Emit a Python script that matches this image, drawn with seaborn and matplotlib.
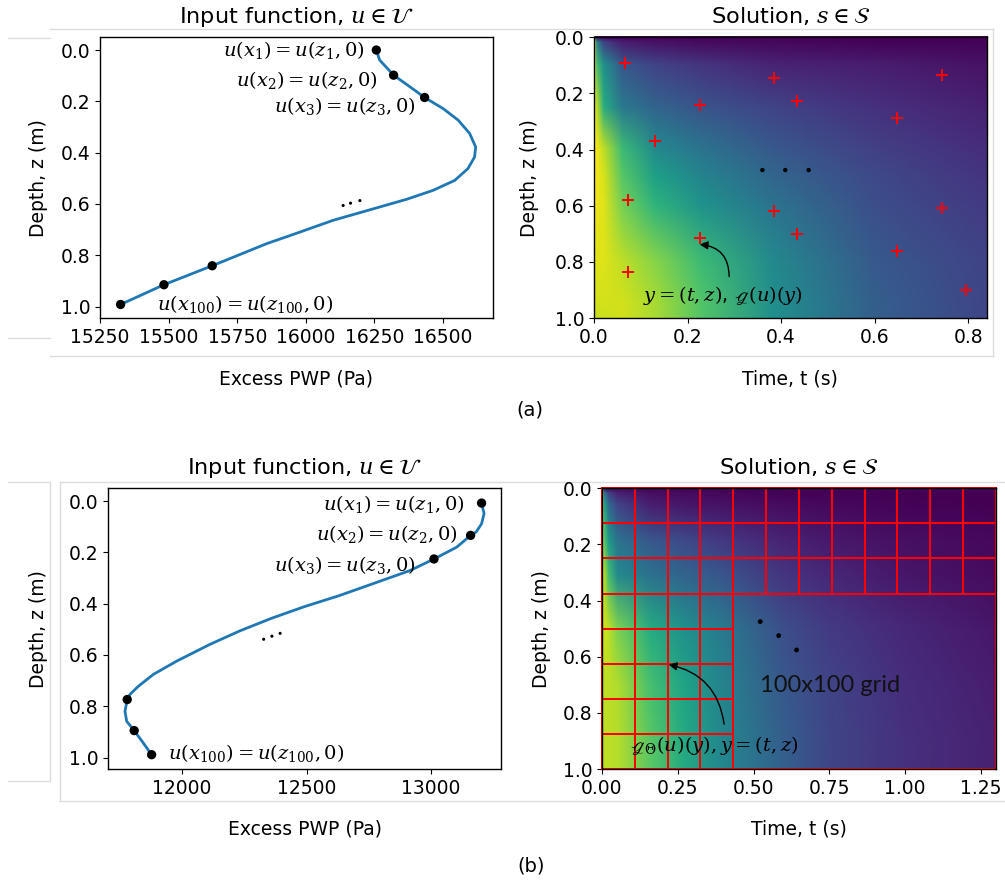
import numpy as np
import matplotlib
matplotlib.use("Agg")
import matplotlib.pyplot as plt
from matplotlib.image import NonUniformImage
from matplotlib.patches import Rectangle
from matplotlib.lines import Line2D
import seaborn as sns

# ---------------- (a) input function ----------------
a_depth = [0.0, 0.039, 0.098, 0.143, 0.185, 0.228, 0.273, 0.325, 0.378, 0.417,
           0.462, 0.508, 0.547, 0.582, 0.612, 0.664, 0.71, 0.755, 0.841, 0.915, 0.992]
a_pwp = [16257, 16269, 16320, 16379, 16433, 16500, 16555, 16597, 16619, 16615,
         16591, 16543, 16464, 16367, 16269, 16099, 15978, 15857, 15659, 15483, 15325]
a_dot_depth = [0.0, 0.098, 0.185, 0.841, 0.915, 0.992]
a_dot_pwp = [16257, 16320, 16433, 15659, 15483, 15325]
a_more_pwp = [16136, 16163, 16197]
a_more_depth = [0.606, 0.597, 0.587]

# ---------------- (a) solution field (colour level 0..1) ----------------
a_t = [0.0, 0.005, 0.02, 0.06, 0.13, 0.23, 0.38, 0.6, 0.84]
a_z = [0.0, 0.02, 0.1, 0.25, 0.4, 0.5, 0.6, 0.8, 0.95, 1.0]
a_field = [
    [0.35, 0.00, 0.00, 0.00, 0.00, 0.00, 0.00, 0.00, 0.00],
    [0.96, 0.45, 0.20, 0.08, 0.05, 0.03, 0.02, 0.01, 0.01],
    [0.97, 0.70, 0.50, 0.27, 0.20, 0.15, 0.10, 0.08, 0.05],
    [0.98, 0.90, 0.62, 0.40, 0.32, 0.26, 0.20, 0.14, 0.09],
    [1.00, 0.98, 0.90, 0.68, 0.48, 0.38, 0.28, 0.19, 0.13],
    [1.00, 0.98, 0.94, 0.74, 0.57, 0.45, 0.33, 0.22, 0.15],
    [0.99, 0.97, 0.95, 0.79, 0.65, 0.51, 0.38, 0.24, 0.17],
    [0.95, 0.95, 0.95, 0.90, 0.82, 0.68, 0.47, 0.28, 0.20],
    [0.93, 0.93, 0.93, 0.93, 0.87, 0.73, 0.50, 0.30, 0.21],
    [0.92, 0.92, 0.92, 0.93, 0.87, 0.73, 0.50, 0.30, 0.21],
]
a_pts_t = [0.066, 0.384, 0.745, 0.226, 0.435, 0.647, 0.130, 0.073,
           0.384, 0.745, 0.226, 0.435, 0.647, 0.073, 0.795]
a_pts_z = [0.091, 0.146, 0.136, 0.240, 0.227, 0.286, 0.368, 0.580,
           0.618, 0.609, 0.714, 0.702, 0.760, 0.837, 0.899]
a_etc_t = [0.360, 0.409, 0.459]
a_etc_z = [0.473, 0.473, 0.473]

# ---------------- (b) input function ----------------
b_depth = [0.008, 0.049, 0.089, 0.121, 0.134, 0.180, 0.226, 0.271, 0.324, 0.370,
           0.411, 0.457, 0.506, 0.559, 0.624, 0.676, 0.722, 0.754, 0.774, 0.820,
           0.859, 0.895, 0.944, 0.989]
b_pwp = [13203, 13213, 13203, 13181, 13159, 13103, 13012, 12916, 12762, 12628,
         12494, 12360, 12233, 12112, 11979, 11885, 11825, 11791, 11780, 11771,
         11778, 11808, 11845, 11878]
b_dot_depth = [0.008, 0.134, 0.226, 0.774, 0.895, 0.989]
b_dot_pwp = [13203, 13159, 13012, 11780, 11808, 11878]
b_more_pwp = [12328, 12361, 12394]
b_more_depth = [0.539, 0.527, 0.516]

# ---------------- (b) solution field ----------------
b_t = [0.0, 0.005, 0.02, 0.05, 0.16, 0.27, 0.38, 0.6, 0.75, 1.0, 1.3]
b_z = [0.0, 0.02, 0.06, 0.19, 0.31, 0.5, 0.7, 0.9, 1.0]
b_field = [
    [0.35, 0.00, 0.00, 0.00, 0.00, 0.00, 0.00, 0.00, 0.00, 0.00, 0.00],
    [0.99, 0.40, 0.20, 0.10, 0.04, 0.03, 0.02, 0.01, 0.01, 0.00, 0.00],
    [1.00, 0.60, 0.35, 0.20, 0.08, 0.06, 0.05, 0.03, 0.02, 0.01, 0.00],
    [0.98, 0.75, 0.55, 0.38, 0.27, 0.22, 0.17, 0.10, 0.07, 0.04, 0.02],
    [0.95, 0.90, 0.70, 0.48, 0.37, 0.32, 0.27, 0.15, 0.11, 0.06, 0.03],
    [0.93, 0.93, 0.90, 0.80, 0.61, 0.50, 0.42, 0.24, 0.17, 0.11, 0.06],
    [0.90, 0.90, 0.90, 0.88, 0.70, 0.58, 0.46, 0.27, 0.20, 0.13, 0.08],
    [0.90, 0.90, 0.90, 0.89, 0.74, 0.61, 0.48, 0.30, 0.21, 0.14, 0.09],
    [0.91, 0.91, 0.90, 0.89, 0.74, 0.61, 0.48, 0.30, 0.21, 0.14, 0.09],
]
grid_t_edges = [0.0, 0.108, 0.217, 0.325, 0.433, 0.542, 0.65, 0.758,
                0.867, 0.975, 1.083, 1.192, 1.3]
grid_z_edges = [0.0, 0.125, 0.25, 0.375, 0.5, 0.625, 0.75, 0.875, 1.0]
fine_rows = 3   # rows refined over the full width
fine_cols = 4   # columns refined over the full depth
b_etc_t = [0.522, 0.583, 0.642]
b_etc_z = [0.475, 0.525, 0.576]

plt.rcParams["font.family"] = ["DejaVu Sans"]
plt.rcParams["mathtext.fontset"] = "dejavuserif"
plt.rcParams["mathtext.fallback"] = "stix"
plt.rcParams["font.size"] = 13.5

fig = plt.figure(figsize=(10.05, 8.86), dpi=100)
ax_a1 = fig.add_axes([0.0995, 0.641, 0.391, 0.317])
ax_a2 = fig.add_axes([0.591, 0.641, 0.391, 0.317])
ax_b1 = fig.add_axes([0.1075, 0.132, 0.391, 0.317])
ax_b2 = fig.add_axes([0.599, 0.132, 0.392, 0.317])

MATH = 14


def input_panel(ax, pwp, depth, dot_pwp, dot_depth, more_pwp, more_depth, xlim, ylpad):
    sns.lineplot(x=pwp, y=depth, sort=False, estimator=None, color="#1f77b4",
                 lw=2, ax=ax)
    sns.scatterplot(x=dot_pwp, y=dot_depth, color="black", s=45, edgecolor="none",
                    ax=ax, zorder=3)
    sns.scatterplot(x=more_pwp, y=more_depth, color="black", s=5, edgecolor="none",
                    ax=ax, zorder=3)
    ax.set_xlim(*xlim)
    ax.set_ylim(1.045, -0.05)
    ax.set_yticks([0.0, 0.2, 0.4, 0.6, 0.8, 1.0])
    ax.set_title(r"Input function, $u \in \mathcal{U}$", pad=10)
    ax.set_xlabel("Excess PWP (Pa)", labelpad=16)
    ax.set_ylabel("Depth, z (m)", labelpad=ylpad)


def solution_panel(ax, t, z, field, tmax, xticks, ylpad):
    im = NonUniformImage(ax, interpolation="bilinear", cmap="viridis",
                         extent=(0, tmax, 0, 1))
    im.set_clim(0, 1)
    im.set_data(np.array(t), np.array(z), np.array(field))
    ax.add_image(im)
    ax.set_xlim(0, tmax)
    ax.set_ylim(1, 0)
    ax.set_xticks(xticks)
    ax.set_yticks([0.0, 0.2, 0.4, 0.6, 0.8, 1.0])
    ax.set_title(r"Solution, $s \in \mathcal{S}$", pad=10)
    ax.set_xlabel("Time, t (s)", labelpad=16)
    ax.set_ylabel("Depth, z (m)", labelpad=ylpad)


# (a) left
input_panel(ax_a1, a_pwp, a_depth, a_dot_pwp, a_dot_depth, a_more_pwp, a_more_depth,
            (15250, 16682), 9)
ax_a1.set_xticks([15250, 15500, 15750, 16000, 16250, 16500])
ax_a1.text(16215, 0.0, r"$u(x_1) = u(z_1, 0)$", ha="right", va="center", fontsize=MATH)
ax_a1.text(16261, 0.117, r"$u(x_2) = u(z_2, 0)$", ha="right", va="center", fontsize=MATH)
ax_a1.text(16400, 0.219, r"$u(x_3) = u(z_3, 0)$", ha="right", va="center", fontsize=MATH)
ax_a1.text(15456, 0.99, r"$u(x_{100}) = u(z_{100}, 0)$", ha="left", va="center",
           fontsize=MATH)

# (a) right
solution_panel(ax_a2, a_t, a_z, a_field, 0.84, [0.0, 0.2, 0.4, 0.6, 0.8], 11)
sns.scatterplot(x=a_pts_t, y=a_pts_z, marker="+", color="red", s=85, linewidth=1.4,
                ax=ax_a2, zorder=3)
sns.scatterplot(x=a_etc_t, y=a_etc_z, color="black", s=10, edgecolor="none",
                ax=ax_a2, zorder=3)
ax_a2.set_xlim(0, 0.84)
ax_a2.set_ylim(1, 0)
ax_a2.text(0.105, 0.92, r"$y = (t, z)$, $ℊ(u)(y)$", ha="left", va="center",
           fontsize=MATH)
ax_a2.annotate("", xy=(0.226, 0.738), xytext=(0.289, 0.852),
               arrowprops=dict(arrowstyle="-|>", color="black", lw=1,
                               connectionstyle="arc3,rad=0.45", shrinkA=0, shrinkB=0,
                               mutation_scale=12))

# (b) left
input_panel(ax_b1, b_pwp, b_depth, b_dot_pwp, b_dot_depth, b_more_pwp, b_more_depth,
            (11703, 13281), 15)
ax_b1.set_xticks([12000, 12500, 13000])
ax_b1.text(13133, 0.01, r"$u(x_1) = u(z_1, 0)$", ha="right", va="center", fontsize=MATH)
ax_b1.text(13107, 0.13, r"$u(x_2) = u(z_2, 0)$", ha="right", va="center", fontsize=MATH)
ax_b1.text(12940, 0.249, r"$u(x_3) = u(z_3, 0)$", ha="right", va="center", fontsize=MATH)
ax_b1.text(11945, 0.983, r"$u(x_{100}) = u(z_{100}, 0)$", ha="left", va="center",
           fontsize=MATH)

# (b) right
solution_panel(ax_b2, b_t, b_z, b_field, 1.30, [0.0, 0.25, 0.5, 0.75, 1.0, 1.25], 8)
ax_b2.set_xticklabels(["0.00", "0.25", "0.50", "0.75", "1.00", "1.25"])
for i in range(len(grid_z_edges) - 1):
    for j in range(len(grid_t_edges) - 1):
        if i < fine_rows or j < fine_cols:
            ax_b2.add_patch(Rectangle((grid_t_edges[j], grid_z_edges[i]),
                                      grid_t_edges[j + 1] - grid_t_edges[j],
                                      grid_z_edges[i + 1] - grid_z_edges[i],
                                      fill=False, edgecolor="red", lw=1.4,
                                      clip_on=False, zorder=2))
ax_b2.add_patch(Rectangle((0, 0), grid_t_edges[-1], grid_z_edges[-1], fill=False,
                          edgecolor="red", lw=1.4, clip_on=False, zorder=2))
sns.scatterplot(x=b_etc_t, y=b_etc_z, color="black", s=12, edgecolor="none",
                ax=ax_b2, zorder=3)
ax_b2.set_xlim(0, 1.30)
ax_b2.set_ylim(1, 0)
ax_b2.text(0.522, 0.703, "100x100 grid", family="Lato", fontsize=17, color="#111111",
           ha="left", va="center")
ax_b2.text(0.093, 0.917, r"$ℊ_{\Theta}(u)(y), y = (t, z)$", ha="left", va="center",
           fontsize=MATH)
ax_b2.annotate("", xy=(0.22, 0.628), xytext=(0.403, 0.84),
               arrowprops=dict(arrowstyle="-|>", color="black", lw=1,
                               connectionstyle="arc3,rad=0.35", shrinkA=0, shrinkB=0,
                               mutation_scale=12))

for ax in (ax_a1, ax_a2, ax_b1, ax_b2):
    for s in ax.spines.values():
        s.set_color("black")
        s.set_linewidth(1.0)

fig.text(0.527, 1 - 410 / 886, "(a)", ha="center", va="center", fontsize=14)
fig.text(0.528, 1 - 866 / 886, "(b)", ha="center", va="center", fontsize=14)

# faint frames of the pasted panels
frame = "#dcdcdc"
W, H = 1005.0, 886.0
for (x0, y0, x1, y1) in [(8, 38, 50, 38), (8, 338, 50, 338), (50, 29, 993, 29),
                         (50, 356, 993, 356), (993, 29, 993, 356),
                         (8, 482, 50, 482), (8, 781, 50, 781), (50, 482, 50, 781),
                         (60, 482, 1005, 482), (60, 801, 1005, 801),
                         (60, 482, 60, 801)]:
    fig.add_artist(Line2D([x0 / W, x1 / W], [1 - y0 / H, 1 - y1 / H], color=frame,
                          lw=1, transform=fig.transFigure, zorder=0))

fig.savefig("out.png", dpi=100, facecolor="white")
